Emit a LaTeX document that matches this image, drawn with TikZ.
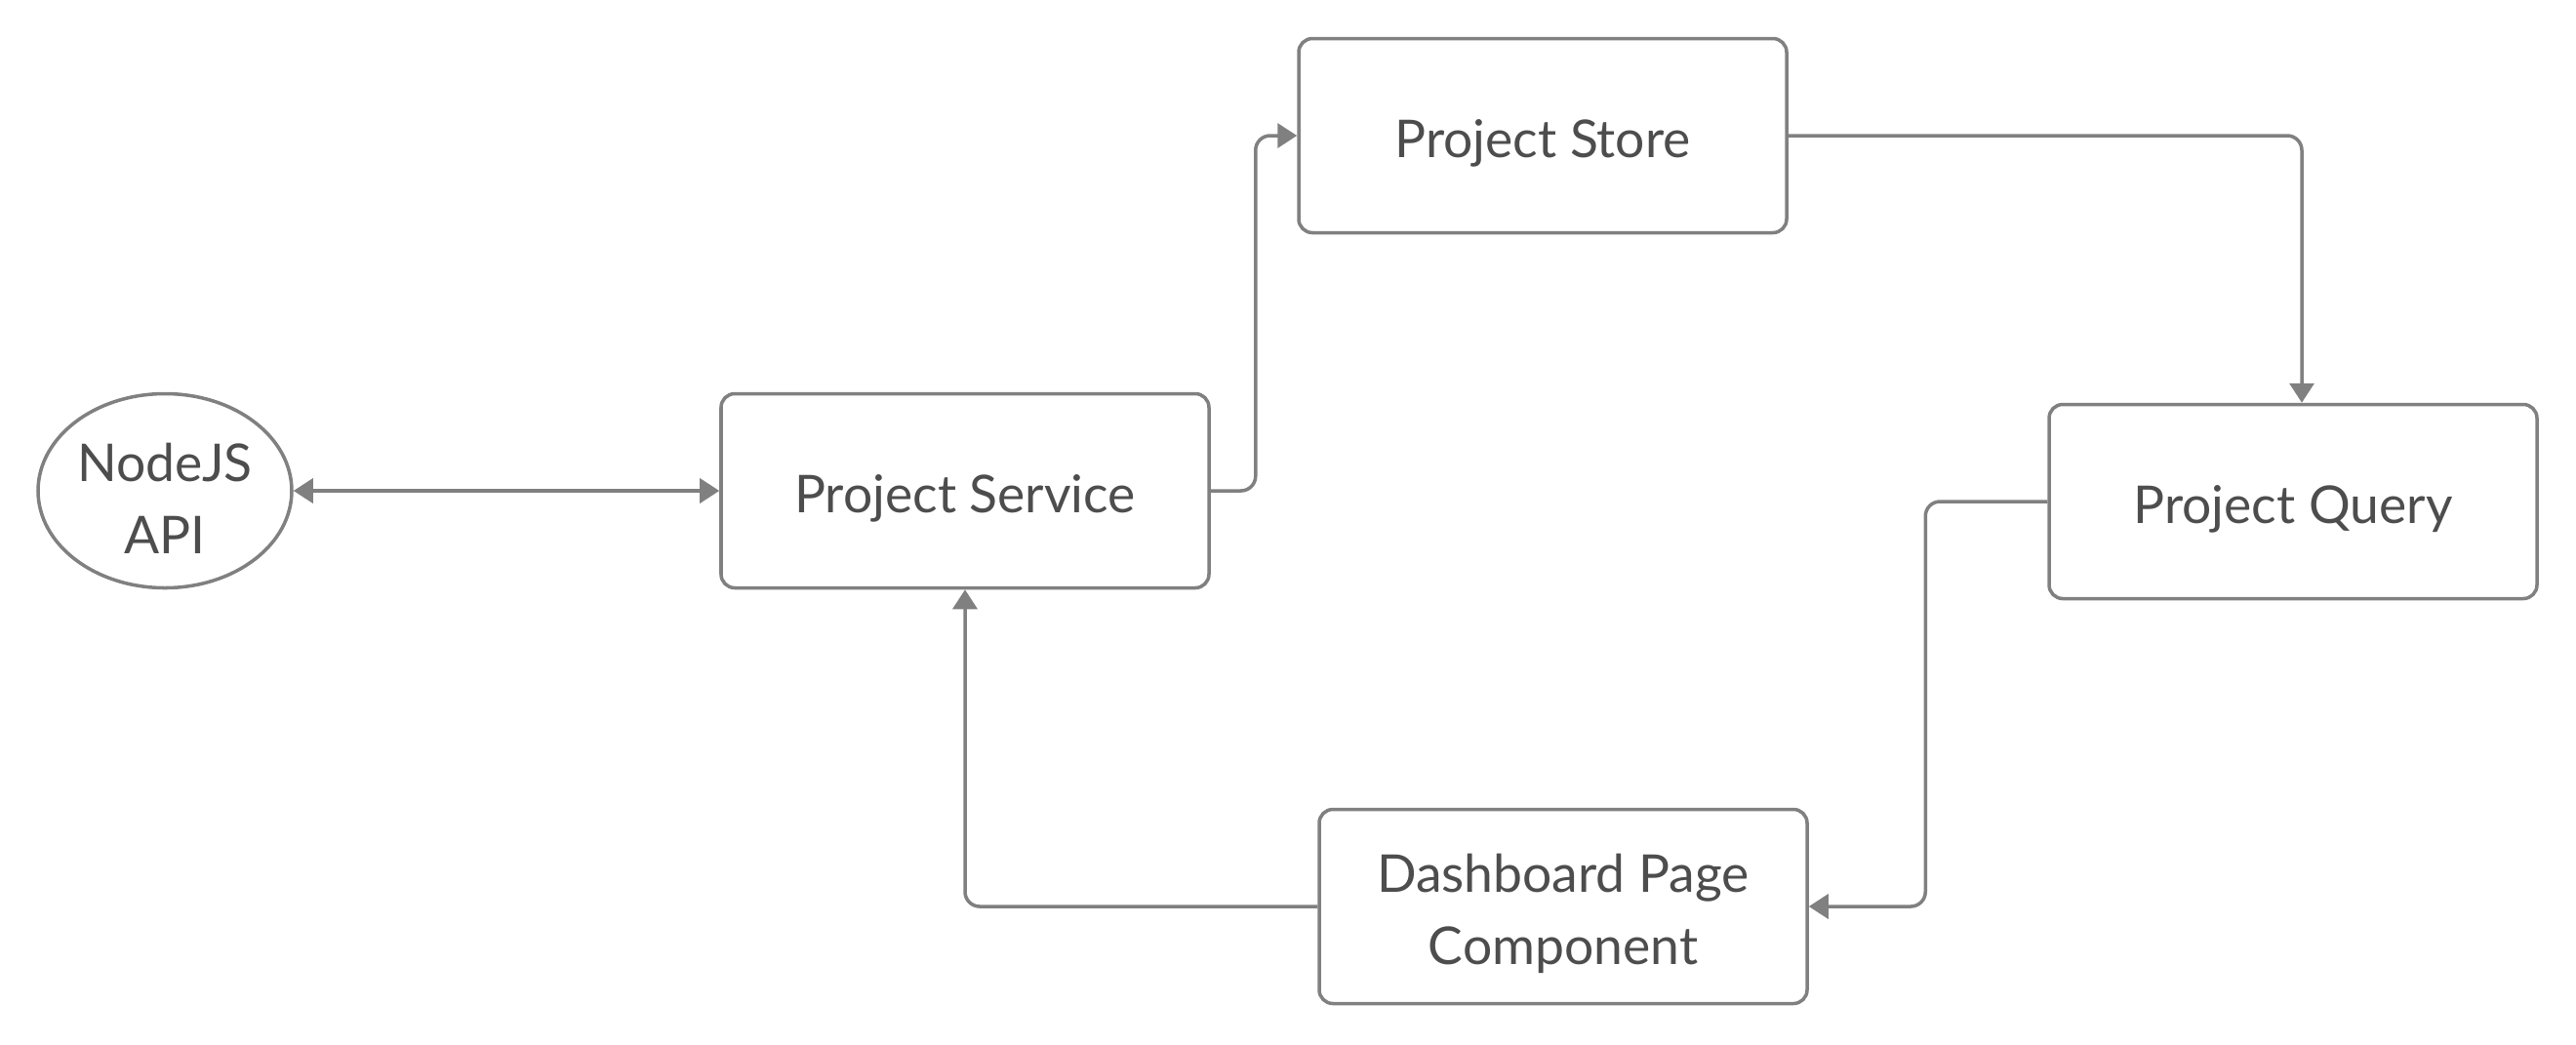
\documentclass[tikz,border=0pt]{standalone}
\usepackage{fontspec}
\setmainfont{Lato}
\usepackage{tikz}
\usetikzlibrary{shapes.geometric,arrows.meta}
\definecolor{mygray}{HTML}{808080}
\definecolor{mytext}{HTML}{4D4D4D}

\tikzset{
  box/.style={draw=mygray,line width=1pt,rounded corners=0.14cm,fill=white,
    minimum width=5cm,minimum height=1.99cm,text=mytext,align=center,
    font=\fontsize{15.2}{21}\selectfont,
    execute at begin node={\rule{0pt}{15.8pt}}},
  twoline/.style={execute at begin node={\rule{0pt}{36.6pt}}},
  oval/.style={box,ellipse,rounded corners=0pt,minimum width=2.6cm,inner sep=0pt},
  link/.style={draw=mygray,line width=1pt,rounded corners=0.15cm,-{Triangle[length=0.2cm,width=0.25cm]}},
}

\begin{document}
\begin{tikzpicture}
        \useasboundingbox (0,0) rectangle (26.4,-10.7);

        % Nodes
        \node[oval,twoline] (api) at (1.69,-5.03) {NodeJS\\API};
        \node[box] (service) at (9.89,-5.03) {Project Service};
        \node[box] (store) at (15.81,-1.39) {Project Store};
        \node[box] (query) at (23.50,-5.14) {Project Query};
        \node[box,twoline] (dashboard) at (16.02,-9.29) {Dashboard Page\\Component};

        % Links
        \draw[link,{Triangle[length=0.2cm,width=0.25cm]}-{Triangle[length=0.2cm,width=0.25cm]}] (api) -- (service);
        \draw[link] (service.east) -- ++(0.46,0) |- (store.west);
        \draw[link] (store.east) -| ([xshift=0.09cm]query.north);
        \draw[link] (query.west) -- ++(-1.25,0) |- (dashboard.east);
        \draw[link] (dashboard.west) -| (service.south);
\end{tikzpicture}
\end{document}
